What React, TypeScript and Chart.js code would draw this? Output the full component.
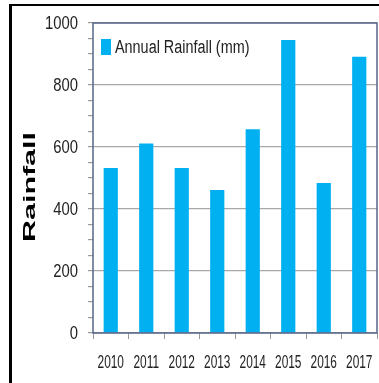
import { useEffect, useRef } from "react";
import { Chart, registerables } from "chart.js";

Chart.register(...registerables);

const years = ["2010", "2011", "2012", "2013", "2014", "2015", "2016", "2017"];
const rainfall = [532, 611, 532, 461, 657, 945, 484, 891];
const seriesLabel = "Annual Rainfall (mm)";
const yAxisTitle = "Rainfall";
const yMin = 0;
const yMax = 1000;
const majorStep = 200;
const minorStep = 50;

const BAR_COLOR = "#00b0f0";
const TEXT_COLOR = "#222222";
const SANS = "'Liberation Sans', Arial, sans-serif";

function drawCondensed(ctx: any, text: string, x: number, y: number, size: number, sx: number, align: string) {
  ctx.save();
  ctx.translate(x, y);
  ctx.scale(sx, 1);
  ctx.font = `${size}px ${SANS}`;
  ctx.fillStyle = TEXT_COLOR;
  ctx.textAlign = align;
  ctx.textBaseline = "middle";
  ctx.fillText(text, 0, 0);
  ctx.restore();
}

const framePlugin = {
  id: "frameAndTitle",
  beforeDraw(chart: any) {
    const ctx = chart.ctx;
    ctx.save();
    ctx.fillStyle = "#ffffff";
    ctx.fillRect(0, 0, chart.width, chart.height);
    ctx.fillStyle = "#000000";
    ctx.fillRect(9, 4, 3, chart.height);
    ctx.fillRect(9, 4, chart.width, 2);
    ctx.restore();
  },
  afterDraw(chart: any) {
    const ctx = chart.ctx;
    const a = chart.chartArea;
    ctx.save();
    ctx.strokeStyle = "#56658a";
    ctx.lineWidth = 1.5;
    ctx.strokeRect(a.left, a.top, a.right - a.left, a.bottom - a.top);
    ctx.restore();

    // y axis title
    ctx.save();
    ctx.translate(31, 187);
    ctx.rotate(-Math.PI / 2);
    ctx.scale(1.9, 1);
    ctx.font = `bold 16px ${SANS}`;
    ctx.fillStyle = "#000000";
    ctx.textAlign = "center";
    ctx.textBaseline = "middle";
    ctx.fillText(yAxisTitle, 0, 0);
    ctx.restore();

    // y tick labels
    const ys = chart.scales.y;
    ys.ticks.forEach((t: any) => {
      if (t.value % majorStep !== 0) return;
      const py = ys.getPixelForValue(t.value);
      drawCondensed(ctx, String(t.value), a.left - 15, py + 0.5, 19, 0.78, "right");
    });

    // x tick labels
    const xs = chart.scales.x;
    xs.ticks.forEach((t: any, i: number) => {
      const px = xs.getPixelForTick(i);
      drawCondensed(ctx, String(xs.getLabelForValue(t.value)), px, a.bottom + 30, 18, 0.66, "center");
    });

    // legend inside plot area
    ctx.save();
    ctx.fillStyle = BAR_COLOR;
    ctx.fillRect(a.left + 8, a.top + 16, 10, 16);
    ctx.restore();
    drawCondensed(ctx, chart.data.datasets[0].label, a.left + 22, a.top + 25, 18, 0.8, "left");
  },
};

export default function App() {
  const ref = useRef<HTMLCanvasElement>(null);
  useEffect(() => {
    if (!ref.current) return;
    const chart = new Chart(ref.current, {
      type: "bar",
      data: {
        labels: years,
        datasets: [
          {
            label: seriesLabel,
            data: rainfall,
            backgroundColor: BAR_COLOR,
            borderWidth: 0,
            barPercentage: 0.4,
            categoryPercentage: 1,
          },
        ],
      },
      options: {
        animation: false,
        responsive: false,
        maintainAspectRatio: false,
        layout: { padding: { left: 0, top: 23, right: 2, bottom: 0 } },
        plugins: {
          legend: { display: false },
          tooltip: { enabled: false },
        },
        scales: {
          x: {
            afterFit: (s: any) => {
              s.height = 50;
            },
            border: { display: false },
            grid: {
              offset: true,
              drawOnChartArea: false,
              tickLength: 6,
              tickColor: "#9a9a9a",
            },
            ticks: {
              display: false,
              autoSkip: false,
              maxRotation: 0,
            },
          },
          y: {
            min: yMin,
            max: yMax,
            afterFit: (s: any) => {
              s.width = 93;
            },
            border: { display: false },
            grid: {
              color: (c: any) =>
                c.tick && c.tick.value % majorStep === 0 ? "#a8a8a8" : "rgba(0,0,0,0)",
              tickColor: "#9a9a9a",
              tickLength: 5,
              lineWidth: 1.2,
            },
            ticks: {
              display: false,
              stepSize: minorStep,
              autoSkip: false,
            },
          },
        },
      },
      plugins: [framePlugin],
    });
    return () => chart.destroy();
  }, []);
  return (
    <div style={{ position: "absolute", left: 0, top: 0, width: 379, height: 383 }}>
      <canvas ref={ref} width={379} height={383} style={{ display: "block" }} />
    </div>
  );
}
